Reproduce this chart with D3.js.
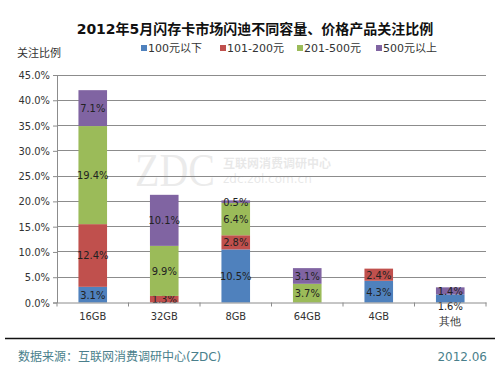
<!DOCTYPE html>
<html>
<head>
<meta charset="utf-8">
<script src="https://cdn.jsdelivr.net/npm/d3@7"></script>
<style>
body { margin: 0; background: #fff; }
svg { font-family: "DejaVu Sans", "Noto Sans CJK SC", sans-serif; }
</style>
</head>
<body>
<div id="vizContainer"></div>
<script>
let w = 500;
let h = 375;

let categories = ["16GB", "32GB", "8GB", "64GB", "4GB", "其他"];
let seriesNames = ["100元以下", "101-200元", "201-500元", "500元以上"];
let colors = ["#4F81BD", "#C0504D", "#9BBB59", "#8064A2"];
let s100 = [3.1, 0, 10.5, 0, 4.3, 1.6];
let s200 = [12.4, 1.3, 2.8, 0, 2.4, 0];
let s500 = [19.4, 9.9, 6.4, 3.7, 0, 0];
let sOver = [7.1, 10.1, 0.5, 3.1, 0, 1.4];
let yTicks = [0, 5, 10, 15, 20, 25, 30, 35, 40, 45];

let table = categories.map(function(c, i){
	return { cat: c, s0: s100[i], s1: s200[i], s2: s500[i], s3: sOver[i] };
});
let stacked = d3.stack().keys(["s0", "s1", "s2", "s3"])(table);

let viz = d3.select('#vizContainer').append('svg')
	.attr('width', w)
	.attr('height', h);

let xScale = d3.scaleBand().domain(categories).range([57, 486]).paddingInner(0.6).paddingOuter(0.3);
let yScale = d3.scaleLinear().domain([0, 45]).range([302.5, 75]);

// title
viz.append("text")
	.attr("x", 255).attr("y", 34)
	.attr("text-anchor", "middle")
	.attr("font-size", 14).attr("font-weight", "bold")
	.attr("fill", "#111")
	.text("2012年5月闪存卡市场闪迪不同容量、价格产品关注比例");

viz.append("text")
	.attr("x", 17).attr("y", 57)
	.attr("font-size", 11).attr("fill", "#333")
	.text("关注比例");

// legend
let legendX = [141, 220, 297, 376];
let legend = viz.append("g").selectAll("g").data(seriesNames).enter().append("g")
	.attr("transform", function(d, i){ return "translate(" + legendX[i] + ",0)"; });
legend.append("rect")
	.attr("x", 0).attr("y", 45).attr("width", 6).attr("height", 6)
	.attr("fill", function(d, i){ return colors[i]; });
legend.append("text")
	.attr("x", 7).attr("y", 52)
	.attr("font-size", 11).attr("fill", "#333")
	.text(function(d){ return d; });

// watermark
let wm = viz.append("g").attr("opacity", 0.16);
wm.append("text").attr("x", 135).attr("y", 186).attr("font-size", 46)
	.attr("textLength", 80).attr("lengthAdjust", "spacingAndGlyphs")
	.attr("font-family", "Liberation Serif, serif").attr("fill", "#888").text("ZDC");
wm.append("text").attr("x", 223).attr("y", 168).attr("font-size", 12)
	.attr("font-weight", "bold").attr("fill", "#777").text("互联网消费调研中心");
wm.append("text").attr("x", 223).attr("y", 183).attr("font-size", 12)
	.attr("fill", "#777").text("zdc.zol.com.cn");

// gridlines
viz.append("g").selectAll("line").data(yTicks.slice(1)).enter().append("line")
	.attr("x1", 57).attr("x2", 486)
	.attr("y1", function(d){ return yScale(d); })
	.attr("y2", function(d){ return yScale(d); })
	.attr("stroke", "#8c8c8c").attr("stroke-width", 1).attr("shape-rendering", "crispEdges");

// y axis
let yAxis = d3.axisLeft(yScale).tickValues(yTicks).tickSize(4).tickFormat(function(d){ return d.toFixed(1) + "%"; });
let yg = viz.append("g").attr("transform", "translate(57,0)").call(yAxis);
yg.select(".domain").attr("stroke", "#8c8c8c");
yg.selectAll(".tick line").attr("stroke", "#8c8c8c");
yg.selectAll("text").attr("font-size", 11).attr("fill", "#333").attr("font-family", "DejaVu Sans Condensed, sans-serif");

// bars
let groups = viz.append("g").selectAll("g").data(stacked).enter().append("g")
	.attr("fill", function(d, i){ return colors[i]; });
groups.selectAll("rect").data(function(d){ return d; }).enter().append("rect")
	.attr("x", function(d){ return xScale(d.data.cat); })
	.attr("width", xScale.bandwidth())
	.attr("y", function(d){ return yScale(d[1]); })
	.attr("height", function(d){ return yScale(d[0]) - yScale(d[1]); });

// labels
groups.selectAll("text").data(function(d){ return d.filter(function(p){ return p[1] - p[0] > 0; }); }).enter().append("text")
	.attr("x", function(d){ return xScale(d.data.cat) + xScale.bandwidth() / 2; })
	.attr("y", function(d){
		let m = (d[0] + d[1]) / 2;
		if (d.data.cat == "其他" && d[0] == 0) m = -0.6;
		return yScale(m) + 4;
	})
	.attr("text-anchor", "middle")
	.attr("font-size", 11).attr("fill", "#222")
	.attr("font-family", "DejaVu Sans Condensed, sans-serif")
	.text(function(d){ return (d[1] - d[0]).toFixed(1) + "%"; });

// x axis
let xAxis = d3.axisBottom(xScale).tickSize(0).tickPadding(10);
let xg = viz.append("g").attr("transform", "translate(0,302.5)").call(xAxis);
xg.select(".domain").attr("stroke", "#8c8c8c");
xg.selectAll("text").attr("font-size", 11).attr("fill", "#333").attr("font-family", "DejaVu Sans Condensed, sans-serif");
xg.selectAll("text").filter(function(d){ return d == "其他"; }).attr("dy", "1.1em");
let bound = categories.map(function(c){ return xScale(c) - xScale.step() * xScale.paddingInner() / 2; });
bound.push(486);
viz.append("g").selectAll("line").data(bound).enter().append("line")
	.attr("x1", function(d){ return d; }).attr("x2", function(d){ return d; })
	.attr("y1", 302.5).attr("y2", 306.5)
	.attr("stroke", "#8c8c8c");

// footer
viz.append("line").attr("x1", 5).attr("x2", 495).attr("y1", 338.5).attr("y2", 338.5)
	.attr("stroke", "#111").attr("stroke-width", 1.3);
viz.append("text").attr("x", 18).attr("y", 361).attr("font-size", 12).attr("fill", "#4a7f8c")
	.text("数据来源：互联网消费调研中心(ZDC)");
viz.append("text").attr("x", 487).attr("y", 361).attr("text-anchor", "end").attr("font-size", 12).attr("fill", "#4a7f8c")
	.text("2012.06");
</script>
</body>
</html>
